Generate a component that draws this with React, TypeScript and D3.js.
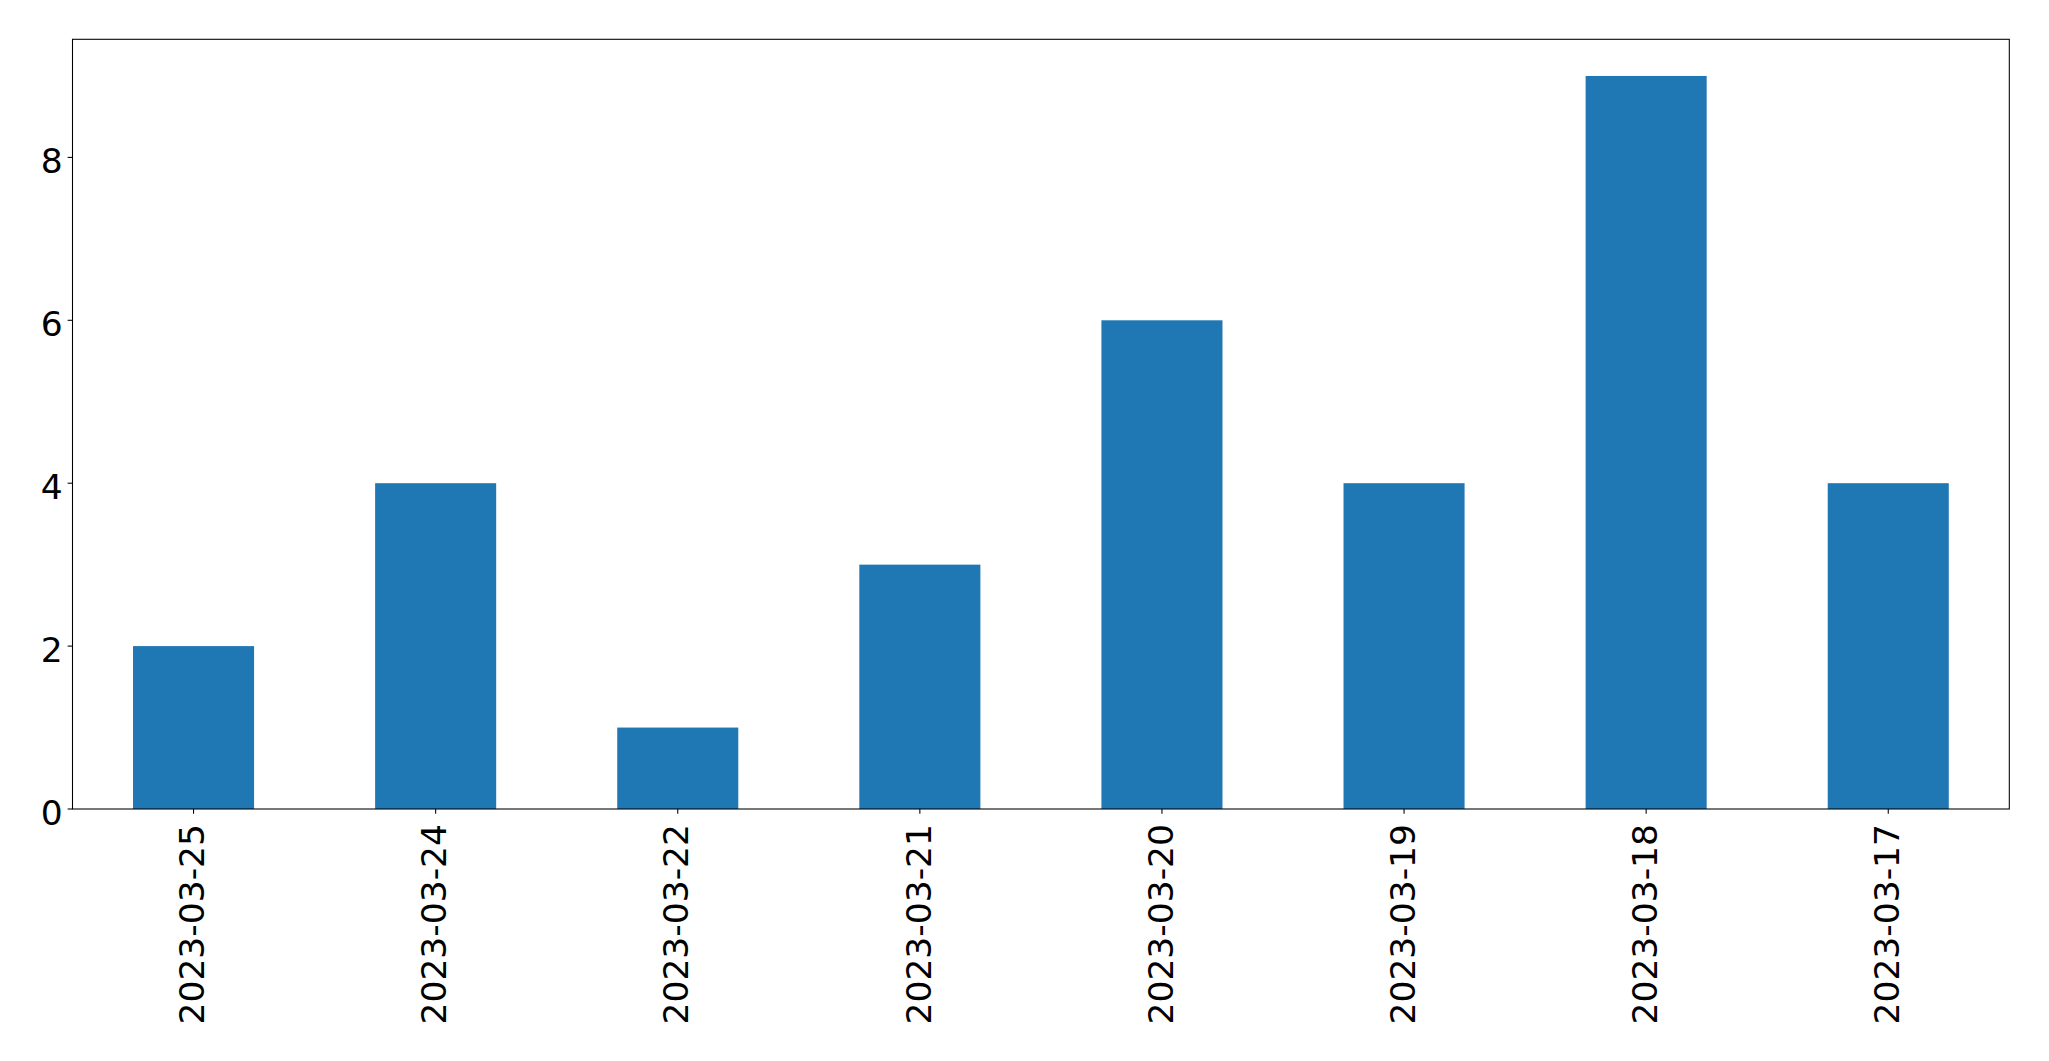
import React from "react";
import * as d3 from "d3";

const categories: string[] = [
  "2023-03-25",
  "2023-03-24",
  "2023-03-22",
  "2023-03-21",
  "2023-03-20",
  "2023-03-19",
  "2023-03-18",
  "2023-03-17",
];
const values: number[] = [2, 4, 1, 3, 6, 4, 9, 4];
const yTicks: number[] = [0, 2, 4, 6, 8];

const W = 2049;
const H = 1061;
const M = { left: 72.5, top: 39.3, right: 2009.3, bottom: 809 };
const FONT = "'DejaVu Sans', sans-serif";
const FS = 34.5;
const TICK = 4.86;
const PAD = 4.86;

export default function App() {
  const x = d3
    .scaleLinear()
    .domain([-0.5, categories.length - 0.5])
    .range([M.left, M.right]);
  const y = d3
    .scaleLinear()
    .domain([0, d3.max(values)! * 1.05])
    .range([M.bottom, M.top]);
  const bw = x(0.25) - x(-0.25);

  return (
    <svg
      width={W}
      height={H}
      style={{ position: "absolute", left: 0, top: 0, background: "#fff" }}
    >
      <rect x={0} y={0} width={W} height={H} fill="#fff" />
      {values.map((v, i) => (
        <rect
          key={i}
          x={x(i) - bw / 2}
          y={y(v)}
          width={bw}
          height={y(0) - y(v)}
          fill="#1f77b4"
        />
      ))}
      <rect
        x={M.left}
        y={M.top}
        width={M.right - M.left}
        height={M.bottom - M.top}
        fill="none"
        stroke="#000"
        strokeWidth={1.07}
      />
      {yTicks.map((t) => (
        <g key={t}>
          <line
            x1={M.left - TICK}
            x2={M.left}
            y1={y(t)}
            y2={y(t)}
            stroke="#000"
            strokeWidth={1.07}
          />
          <text
            x={M.left - TICK - PAD}
            y={y(t)}
            dy="0.45em"
            textAnchor="end"
            fontFamily={FONT}
            fontSize={FS}
            fill="#000"
          >
            {t}
          </text>
        </g>
      ))}
      {categories.map((c, i) => (
        <g key={c}>
          <line
            x1={x(i)}
            x2={x(i)}
            y1={M.bottom}
            y2={M.bottom + TICK}
            stroke="#000"
            strokeWidth={1.07}
          />
          <text
            transform={`translate(${x(i)},${M.bottom + 15}) rotate(-90)`}
            dy="0.31em"
            textAnchor="end"
            fontFamily={FONT}
            fontSize={FS}
            fill="#000"
          >
            {c}
          </text>
        </g>
      ))}
    </svg>
  );
}
